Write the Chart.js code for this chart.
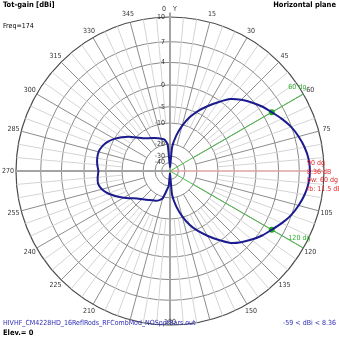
<!DOCTYPE html>
<html>
<head>
<meta charset="utf-8">
<script src="https://cdn.jsdelivr.net/npm/chart.js@4.4.0/dist/chart.umd.min.js"></script>
<style>
  html, body { margin: 0; padding: 0; background: #fff; }
  canvas { display: block; }
</style>
</head>
<body>
<canvas id="plot" width="339" height="339"></canvas>
<script>
// azimuth (deg) of every sample, 5 deg apart, clockwise from Y
const azimuths = [
  0, 5, 10, 15, 20, 25, 30, 35, 40, 45, 50, 55,
  60, 65, 70, 75, 80, 85, 90, 95, 100, 105, 110, 115,
  120, 125, 130, 135, 140, 145, 150, 155, 160, 165, 170, 175,
  180, 185, 190, 195, 200, 205, 210, 215, 220, 225, 230, 235,
  240, 245, 250, 255, 260, 265, 270, 275, 280, 285, 290, 295,
  300, 305, 310, 315, 320, 325, 330, 335, 340, 345, 350, 355
];

// total gain in dBi at each azimuth
const gainDb = [
  -52, -22, -15, -10.5, -7, -4.5, -2.4, -0.4, 1.5, 2.7, 3.7, 4.6,
  5.36, 6.2, 6.95, 7.5, 7.95, 8.25, 8.36, 8.25, 7.95, 7.5, 6.95, 6.2,
  5.36, 4.6, 3.7, 2.7, 1.5, -0.4, -2.4, -4.5, -7, -10.5, -15, -22,
  -59, -30, -25, -19, -17.5, -16.5, -16, -15.2, -14.2, -13.2, -12, -10.2,
  -8.2, -6.3, -4.6, -3.4, -2.8, -2.9, -3.14, -2.8, -2.6, -2.6, -3.0, -3.8,
  -5.0, -6.5, -8.2, -10.2, -12.0, -13.2, -14.0, -14.8, -15.5, -16.2, -17.0, -20.0
];

// rings of the ARRL log scale, in dBi
const ringDb = [-40, -30, -20, -10, -5, 0, 4, 7, 10];
// azimuths that get a number outside the outer ring
const labeledAzimuths = [0, 15, 30, 45, 60, 75, 105, 120, 135, 150, 180,
  210, 225, 240, 255, 270, 285, 300, 315, 330, 345];

const peakAzimuth = 90;
const peakGain = 8.36;
const beamEdges = [60, 120];
const beamEdgeGain = 5.36;
const beamWidth = 60;
const frontBack = 11.5;
const minGain = -59;

const scaleTop = 10;
// ARRL log scale: 0.89 of the radius for every 2 dB below the top ring
const arrl = db => Math.pow(0.89, (scaleTop - db) / 2);

const FONT = "'Liberation Sans Narrow', 'DejaVu Sans Condensed', 'Liberation Sans', sans-serif";

const polarDecor = {
  id: 'polarDecor',
  beforeDatasetsDraw(chart) {
    const r = chart.scales.r;
    const ctx = chart.ctx;
    ctx.save();
    // spokes, lighter every 5 deg, darker every 15 deg
    azimuths.forEach((az, i) => {
      if (az % 90 === 0) return;
      const major = az % 15 === 0;
      const a = r.getPointPositionForValue(i, arrl(major ? -20 : -10));
      const b = r.getPointPositionForValue(i, 1);
      ctx.strokeStyle = major ? '#8c8c8c' : '#d4d4d4';
      ctx.lineWidth = 1;
      ctx.beginPath();
      ctx.moveTo(a.x, a.y);
      ctx.lineTo(b.x, b.y);
      ctx.stroke();
    });
    // Y axis and the 270 half axis
    const top = r.getPointPositionForValue(azimuths.indexOf(0), 1.03);
    const bottom = r.getPointPositionForValue(azimuths.indexOf(180), 0.97);
    const left = r.getPointPositionForValue(azimuths.indexOf(270), 1);
    ctx.strokeStyle = '#a4a4a4';
    ctx.lineWidth = 2;
    ctx.beginPath();
    ctx.moveTo(top.x, top.y);
    ctx.lineTo(bottom.x, bottom.y);
    ctx.moveTo(left.x, left.y);
    ctx.lineTo(r.xCenter, r.yCenter);
    ctx.stroke();
    // peak direction
    const pk = r.getPointPositionForValue(azimuths.indexOf(peakAzimuth), 1);
    ctx.strokeStyle = '#dba3a3';
    ctx.lineWidth = 1.5;
    ctx.beginPath();
    ctx.moveTo(r.xCenter, r.yCenter);
    ctx.lineTo(pk.x, pk.y);
    ctx.stroke();
    // -3 dB beam edges
    ctx.strokeStyle = '#4cbc4c';
    ctx.lineWidth = 1;
    beamEdges.forEach(az => {
      const p = r.getPointPositionForValue(azimuths.indexOf(az), 1);
      ctx.beginPath();
      ctx.moveTo(r.xCenter, r.yCenter);
      ctx.lineTo(p.x, p.y);
      ctx.stroke();
    });
    ctx.restore();
  },
  afterDatasetsDraw(chart) {
    const r = chart.scales.r;
    const ctx = chart.ctx;
    ctx.save();
    ctx.textBaseline = 'middle';
    ctx.font = '7px ' + FONT;

    // ring values left of the Y axis
    ctx.fillStyle = '#333';
    ctx.textAlign = 'right';
    ringDb.forEach(db => {
      const p = r.getPointPositionForValue(0, arrl(db));
      ctx.fillText(String(db), p.x - 5, p.y);
    });

    // azimuth numbers
    ctx.textAlign = 'center';
    labeledAzimuths.forEach(az => {
      const i = azimuths.indexOf(az);
      const p = r.getPointPosition(i, az === 180 ? r.drawingArea - 3 : r.drawingArea + 8);
      ctx.fillText(String(az), az === 0 ? p.x - 6 : p.x, p.y);
    });
    const y0 = r.getPointPosition(0, r.drawingArea + 8);
    ctx.fillText('Y', y0.x + 5, y0.y);

    // peak annotation
    const pk = r.getPointPositionForValue(azimuths.indexOf(peakAzimuth), 1);
    ctx.fillStyle = '#e02828';
    ctx.textAlign = 'left';
    [peakAzimuth + ' dg', peakGain + ' dB', 'bw: ' + beamWidth + ' dg', 'fb: ' + frontBack + ' dB']
      .forEach((t, k) => ctx.fillText(t, pk.x - 17, pk.y - 8 + k * 8.8));

    // beam edge annotations
    ctx.fillStyle = '#2fae2f';
    beamEdges.forEach(az => {
      const p = r.getPointPositionForValue(azimuths.indexOf(az), 1);
      ctx.fillText(az + ' dg', p.x - 15, p.y + (az < peakAzimuth ? -7 : -10));
    });

    // headings and footer
    ctx.fillStyle = '#000';
    ctx.font = 'bold 7.5px ' + FONT;
    ctx.fillText('Tot-gain [dBi]', 3, 5);
    ctx.fillText('Elev.= 0', 3, 333);
    ctx.textAlign = 'right';
    ctx.fillText('Horizontal plane', 336, 5);
    ctx.font = '7px ' + FONT;
    ctx.textAlign = 'left';
    ctx.fillText('Freq=174', 3, 26);
    ctx.fillStyle = '#2c2cb4';
    ctx.fillText('HIVHF_CM4228HD_16ReflRods_RFCombMod_NOSpptBars.out', 3, 323);
    ctx.textAlign = 'right';
    ctx.fillText(minGain + ' < dBi < ' + peakGain, 336, 323);
    ctx.restore();
  }
};

new Chart(document.getElementById('plot'), {
  type: 'radar',
  data: {
    labels: azimuths.map(String),
    datasets: [
      {
        label: 'gain',
        data: gainDb.map(arrl),
        borderColor: '#1b1b8f',
        borderWidth: 2,
        backgroundColor: 'rgba(0,0,0,0)',
        fill: false,
        pointRadius: 0,
        tension: 0.15
      },
      {
        label: 'beam edges',
        data: azimuths.map(az => beamEdges.includes(az) ? arrl(beamEdgeGain) : null),
        showLine: false,
        pointRadius: 3,
        pointBorderWidth: 0,
        pointBackgroundColor: '#1faa1f',
        pointBorderColor: '#1faa1f'
      }
    ]
  },
  options: {
    responsive: false,
    animation: false,
    layout: { padding: { left: 16, right: 15, top: 17, bottom: 14 } },
    plugins: { legend: { display: false }, tooltip: { enabled: false } },
    scales: {
      r: {
        min: 0,
        max: 1,
        startAngle: 0,
        afterBuildTicks: scale => {
          scale.ticks = [{ value: 0 }].concat(ringDb.map(db => ({ value: arrl(db) })));
        },
        ticks: { display: false },
        pointLabels: { display: false },
        angleLines: { display: false },
        grid: {
          circular: true,
          color: ctx => ctx.index === ringDb.length ? '#4a4a4a' : '#8a8a8a',
          lineWidth: ctx => ctx.index === ringDb.length ? 1.2 : 1
        }
      }
    }
  },
  plugins: [polarDecor]
});
</script>
</body>
</html>
